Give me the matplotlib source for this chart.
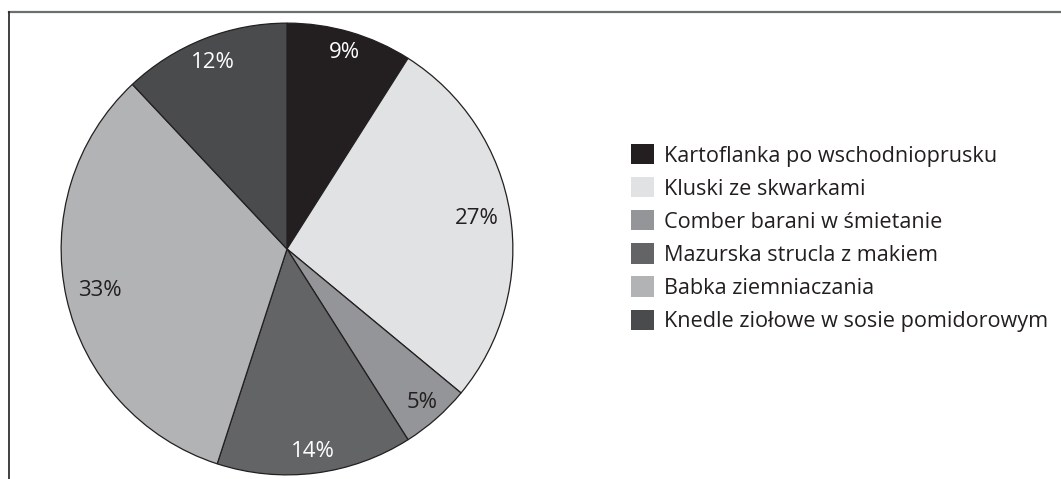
import matplotlib
matplotlib.use('Agg')
import matplotlib.pyplot as plt
from matplotlib.patches import Patch
from matplotlib.lines import Line2D

plt.rcParams['font.family'] = ['Open Sans', 'DejaVu Sans']

# dishes and their shares (%)
dishes = [
    'Kartoflanka po wschodnioprusku',
    'Kluski ze skwarkami',
    'Comber barani w śmietanie',
    'Mazurska strucla z makiem',
    'Babka ziemniaczania',
    'Knedle ziołowe w sosie pomidorowym',
]
shares = [9, 27, 5, 14, 33, 12]

slice_colors = ['#231f20', '#e1e2e3', '#939598', '#636466', '#b2b3b5', '#4a4b4d']
label_colors = ['white', '#231f20', '#231f20', 'white', '#231f20', 'white']
# radial position of each percentage label (fraction of radius)
label_dist = [0.905, 0.85, 0.905, 0.905, 0.85, 0.89]

W, H = 1061, 479
fig = plt.figure(figsize=(W / 100, H / 100), dpi=100)

# pie centred at (287, 249) px, radius 227 px
cx, cy, r = 287, 249, 227
ax = fig.add_axes([(cx - r) / W, (H - cy - r) / H, 2 * r / W, 2 * r / H])
base = 0.9
wedges, texts, autotexts = ax.pie(
    shares, colors=slice_colors, startangle=90, counterclock=False,
    autopct='%d%%', pctdistance=base,
    wedgeprops=dict(edgecolor='#231f20', linewidth=0.9),
    textprops=dict(fontsize=16),
)
for t, c, d in zip(autotexts, label_colors, label_dist):
    t.set_color(c)
    x, y = t.get_position()
    t.set_position((x * d / base, y * d / base))
ax.set_xlim(-1.005, 1.005)
ax.set_ylim(-1.005, 1.005)

fs = 15.6
handles = [Patch(facecolor=c, edgecolor='none') for c in slice_colors]
fig.legend(handles, dishes, loc='upper left',
           bbox_to_anchor=(631 / W, 1 - 144 / H),
           frameon=False, fontsize=fs, borderpad=0, borderaxespad=0,
           handlelength=1.06, handleheight=1.06, handletextpad=0.45,
           labelspacing=0.49, labelcolor='#231f20')

# partial frame: top and left edges only
fig.add_artist(Line2D([9 / W, 1], [1 - 12 / H, 1 - 12 / H],
                      color='#6d6e70', linewidth=1.6))
fig.add_artist(Line2D([9 / W, 9 / W], [0, 1 - 12 / H],
                      color='#231f20', linewidth=1.2))

fig.savefig('out.png', dpi=100)
